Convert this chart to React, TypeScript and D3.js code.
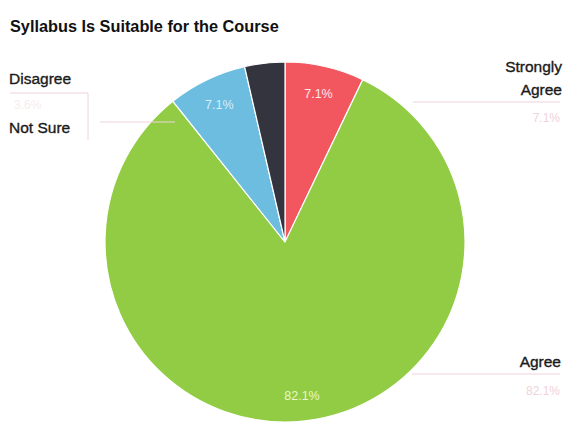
import React from "react";
import * as d3 from "d3";

const categories = ["Strongly Agree", "Agree", "Not Sure", "Disagree"];
const values = [7.1, 82.1, 7.1, 3.6];
const colors = ["#f2565f", "#92cc45", "#6cbde0", "#33343e"];
const title = "Syllabus Is Suitable for the Course";

const W = 572;
const H = 429;
const cx = 285;
const cy = 242;
const R = 180;

export default function App() {
  const pie = d3
    .pie<number>()
    .sort(null)
    .value((d) => d)
    .startAngle(0)
    .endAngle(2 * Math.PI);
  const arcs = pie(values);
  const arc = d3.arc<d3.PieArcDatum<number>>().innerRadius(0).outerRadius(R);
  const labelArc = d3.arc<d3.PieArcDatum<number>>().innerRadius(R * 0.84).outerRadius(R * 0.84);
  const fmt = (v: number) => `${v.toFixed(1)}%`;
  const faint = "#f0d3d8";
  const font = "Liberation Sans, Arial, sans-serif";
  const labelStyle = { stroke: "#1a1a1a", strokeWidth: 0.35 } as const;

  return (
    <svg
      width={W}
      height={H}
      style={{ position: "absolute", left: 0, top: 0, background: "#fff" }}
    >
      <text x={10} y={32} fontFamily={font} fontWeight="bold" fontSize={16.3} fill="#111">
        {title}
      </text>
      <g transform={`translate(${cx},${cy})`}>
        {arcs.map((a, i) => (
          <path key={i} d={arc(a) || ""} fill={colors[i]} stroke="#fff" strokeWidth={1.2} />
        ))}
        {arcs.map((a, i) => {
          if (i === 3) return null;
          const [x, y] = labelArc.centroid(a);
          const lx = i === 1 ? 17 : x;
          const ly = i === 1 ? 155 : y;
          return (
            <text
              key={"l" + i}
              x={lx}
              y={ly}
              textAnchor="middle"
              dominantBaseline="middle"
              fontFamily={font}
              fontSize={12.5}
              fill={i === 2 ? "#d8eef8" : i === 1 ? "#eaf7c8" : "#fde8ea"}
            >
              {fmt(values[i])}
            </text>
          );
        })}
      </g>
      {/* Right labels */}
      <text x={562} y={72} textAnchor="end" fontFamily={font} fontSize={15.5} fill="#1a1a1a" style={labelStyle}>
        Strongly
      </text>
      <text x={562} y={95} textAnchor="end" fontFamily={font} fontSize={15.5} fill="#1a1a1a" style={labelStyle}>
        Agree
      </text>
      <line x1={413} x2={560} y1={102} y2={102} stroke={faint} strokeWidth={1} />
      <text x={560} y={122} textAnchor="end" fontFamily={font} fontSize={12} fill={faint}>
        {fmt(values[0])}
      </text>
      <text x={561} y={367} textAnchor="end" fontFamily={font} fontSize={15.5} fill="#1a1a1a" style={labelStyle}>
        Agree
      </text>
      <line x1={412} x2={560} y1={374} y2={374} stroke={faint} strokeWidth={1} />
      <text x={560} y={395} textAnchor="end" fontFamily={font} fontSize={12} fill={faint}>
        {fmt(values[1])}
      </text>
      {/* Left labels */}
      <text x={9} y={84} fontFamily={font} fontSize={15.5} fill="#1a1a1a" style={labelStyle}>
        Disagree
      </text>
      <line x1={10} x2={88} y1={93} y2={93} stroke={faint} strokeWidth={1} />
      <line x1={88} x2={88} y1={93} y2={140} stroke={faint} strokeWidth={1} />
      <text x={14} y={109} fontFamily={font} fontSize={12} fill="#f8ecee">
        {fmt(values[3])}
      </text>
      <line x1={100} x2={175} y1={122} y2={122} stroke={faint} strokeWidth={1} />
      <text x={9} y={133} fontFamily={font} fontSize={15.5} fill="#1a1a1a" style={labelStyle}>
        Not Sure
      </text>
    </svg>
  );
}
